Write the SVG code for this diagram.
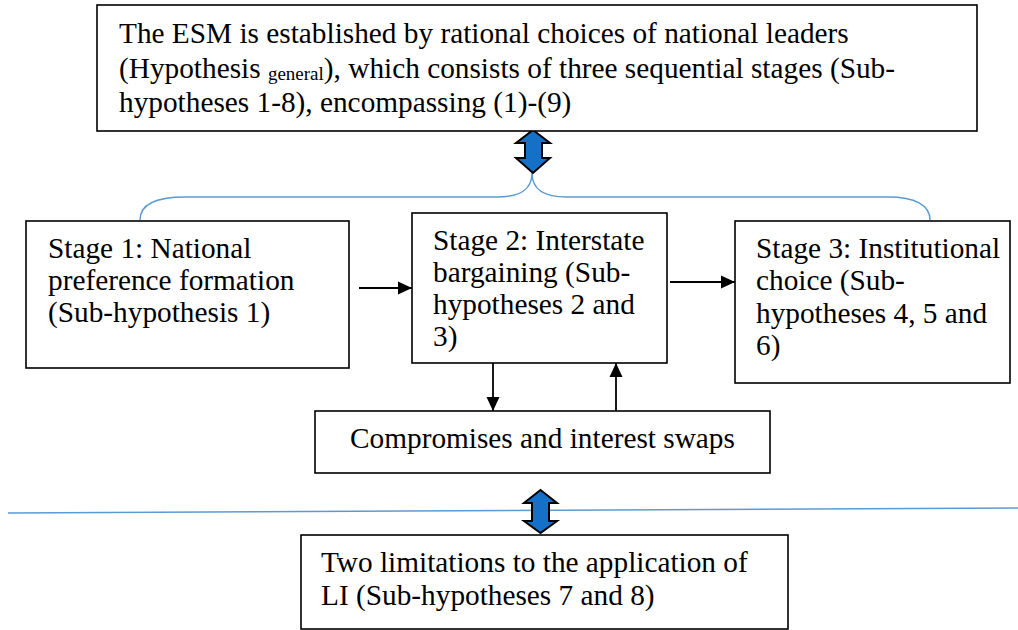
<svg xmlns="http://www.w3.org/2000/svg" width="1018" height="630" viewBox="0 0 1018 630">
<style>
.box{fill:#fff;stroke:#000;stroke-width:1.6}
.t{font-size:29.3px;fill:#000}
.sub{font-size:19px}
.conn{stroke:#000;stroke-width:1.8;fill:none}
.blue{stroke:#5B9BD5;stroke-width:1.5;fill:none}
.dbl{fill:#1570C8;stroke:#000;stroke-width:2;stroke-linejoin:miter}
</style>
<defs>
<marker id="ah" viewBox="0 0 14 14" refX="14" refY="7" markerWidth="14" markerHeight="14" markerUnits="userSpaceOnUse" orient="auto">
<path d="M0,0.5 L14,7 L0,13.5 Z" fill="#000"/>
</marker>
</defs>
<rect width="1018" height="630" fill="#fff"/>
<g id="connectors">
<path class="blue" d="M140,220 C140,205 155,197 185,197 L497,197 C520,197 532,190 532,173 C532,190 544,197 567,197 L888,197 C915,197 930,205 930,220"/>
<line class="blue" x1="8" y1="513" x2="1018" y2="508"/>
<line class="conn" x1="359" y1="288" x2="412" y2="288" marker-end="url(#ah)"/>
<line class="conn" x1="670" y1="282" x2="735" y2="282" marker-end="url(#ah)"/>
<line class="conn" x1="493" y1="363" x2="493" y2="411" marker-end="url(#ah)"/>
<line class="conn" x1="616" y1="411" x2="616" y2="363" marker-end="url(#ah)"/>
<path class="dbl" d="M533,130 L550,143 L542,143 L542,158 L550,158 L533,173 L516,158 L525,158 L525,143 L516,143 Z"/>
<path class="dbl" d="M540.5,490 L557,503 L549,503 L549,521 L557,521 L540.5,533 L524,521 L532,521 L532,503 L524,503 Z"/>
</g>
<g font-family="'Liberation Serif', 'Times New Roman', Tinos, 'DejaVu Serif', serif">
<g id="top">
<rect class="box" x="97" y="5" width="880" height="126"/>
<text class="t" x="119" y="43">The ESM is established by rational choices of national leaders</text>
<text class="t" x="119" y="78">(Hypothesis <tspan class="sub" dy="2">general</tspan><tspan dy="-2">), which consists of three sequential stages (Sub-</tspan></text>
<text class="t" x="119" y="112">hypotheses 1-8), encompassing (1)-(9)</text>
</g>
<g id="stage1">
<rect class="box" x="26" y="221" width="323" height="147"/>
<text class="t" x="48" y="258">Stage 1: National</text>
<text class="t" x="48" y="290">preference formation</text>
<text class="t" x="48" y="322">(Sub-hypothesis 1)</text>
</g>
<g id="stage2">
<rect class="box" x="412" y="213" width="255" height="150"/>
<text class="t" x="433" y="250">Stage 2: Interstate</text>
<text class="t" x="433" y="282">bargaining (Sub-</text>
<text class="t" x="433" y="314">hypotheses 2 and</text>
<text class="t" x="433" y="346">3)</text>
</g>
<g id="stage3">
<rect class="box" x="735" y="221" width="275" height="162"/>
<text class="t" x="756" y="258">Stage 3: Institutional</text>
<text class="t" x="756" y="290">choice (Sub-</text>
<text class="t" x="756" y="323">hypotheses 4, 5 and</text>
<text class="t" x="756" y="355">6)</text>
</g>
<g id="compromises">
<rect class="box" x="315" y="411" width="455" height="62"/>
<text class="t" x="350" y="448">Compromises and interest swaps</text>
</g>
<g id="limitations">
<rect class="box" x="301" y="535" width="487" height="94"/>
<text class="t" x="321" y="572">Two limitations to the application of</text>
<text class="t" x="321" y="605">LI (Sub-hypotheses 7 and 8)</text>
</g>
</g>
</svg>
